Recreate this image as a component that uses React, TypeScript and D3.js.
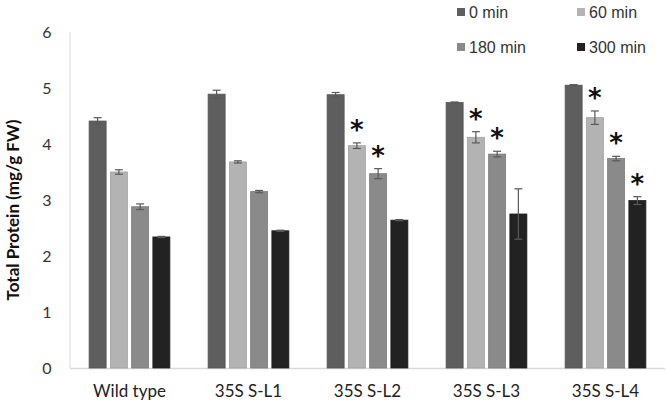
import React from "react";
import * as d3 from "d3";

const categories = ["Wild type", "35S S-L1", "35S S-L2", "35S S-L3", "35S S-L4"];
const seriesNames = ["0 min", "60 min", "180 min", "300 min"];
const seriesColors = ["#5e5e5e", "#b3b3b3", "#8a8a8a", "#222222"];
const yTicks = [0, 1, 2, 3, 4, 5, 6];

const values0 = [4.41, 4.89, 4.88, 4.74, 5.05];
const values60 = [3.5, 3.68, 3.97, 4.12, 4.47];
const values180 = [2.88, 3.15, 3.47, 3.82, 3.74];
const values300 = [2.34, 2.45, 2.64, 2.75, 2.99];

const err0 = [0.06, 0.07, 0.04, 0.01, 0.01];
const err60 = [0.04, 0.02, 0.05, 0.1, 0.12];
const err180 = [0.05, 0.02, 0.09, 0.05, 0.04];
const err300 = [0.01, 0.01, 0.01, 0.45, 0.07];

const sig0 = [false, false, false, false, false];
const sig60 = [false, false, true, true, true];
const sig180 = [false, false, true, true, true];
const sig300 = [false, false, false, false, true];

const allValues = [values0, values60, values180, values300];
const allErrors = [err0, err60, err180, err300];
const allSig = [sig0, sig60, sig180, sig300];

export default function App() {
  const W = 666;
  const H = 404;
  const left = 70;
  const right = 665;
  const top = 32;
  const bottom = 368;

  const x0 = d3.scaleBand<string>().domain(categories).range([left, right]).padding(0);
  const x1 = d3
    .scaleBand<string>()
    .domain(seriesNames)
    .range([0, x0.bandwidth()])
    .paddingInner(0.2)
    .paddingOuter(0.9);
  const y = d3.scaleLinear().domain([0, 6]).range([bottom, top]);

  const font = "Lato, 'Open Sans', sans-serif";
  const cap = 4;

  return (
    <svg width={W} height={H} style={{ position: "absolute", left: 0, top: 0, background: "#fff" }}>
      {/* axes */}
      <line x1={left} x2={left} y1={top} y2={bottom} stroke="#d9d9d9" strokeWidth={1} />
      <line x1={left} x2={right} y1={bottom + 0.5} y2={bottom + 0.5} stroke="#d9d9d9" strokeWidth={1.5} />

      {yTicks.map((t) => (
        <text
          key={t}
          x={47}
          y={y(t)}
          dy="0.36em"
          textAnchor="middle"
          fontFamily={font}
          fontSize={16}
          fill="#333"
        >
          {t}
        </text>
      ))}

      <text
        transform={`translate(19,${(top + bottom) / 2 + 10}) rotate(-90)`}
        textAnchor="middle"
        fontFamily={font}
        fontWeight="bold"
        fontSize={17}
        fill="#111"
      >
        Total Protein (mg/g FW)
      </text>

      {categories.map((c, ci) => (
        <g key={c} transform={`translate(${x0(c)},0)`}>
          {seriesNames.map((s, si) => {
            const v = allValues[si][ci];
            const e = allErrors[si][ci];
            const bx = x1(s)!;
            const bw = x1.bandwidth();
            const cx = bx + bw / 2;
            return (
              <g key={s}>
                <rect
                  x={bx}
                  y={y(v)}
                  width={bw}
                  height={y(0) - y(v)}
                  fill={seriesColors[si]}
                  stroke={d3.color(seriesColors[si])!.darker(0.3).toString()}
                  strokeWidth={0.8}
                />
                <g stroke="#595959" strokeWidth={1.2}>
                  <line x1={cx} x2={cx} y1={y(v + e)} y2={y(v - e)} />
                  <line x1={cx - cap} x2={cx + cap} y1={y(v + e)} y2={y(v + e)} />
                  <line x1={cx - cap} x2={cx + cap} y1={y(v - e)} y2={y(v - e)} />
                </g>
                {allSig[si][ci] && (
                  <text
                    x={cx}
                    y={y(v + e) - 4}
                    textAnchor="middle"
                    fontFamily="'DejaVu Sans', sans-serif"
                    fontWeight="bold"
                    fontSize={26}
                    fill="#111"
                  >
                    *
                  </text>
                )}
              </g>
            );
          })}
          <text
            x={x0.bandwidth() / 2}
            y={397}
            textAnchor="middle"
            fontFamily={font}
            fontSize={17}
            fill="#222"
          >
            {c}
          </text>
        </g>
      ))}

      {/* legend */}
      {seriesNames.map((s, i) => {
        const col = i % 2;
        const row = Math.floor(i / 2);
        const lx = col === 0 ? 457 : 577;
        const ly = row === 0 ? 12 : 47;
        return (
          <g key={s}>
            <rect x={lx} y={ly - 4} width={8} height={8} fill={seriesColors[i]} />
            <text
              x={lx + 12}
              y={ly}
              dy="0.36em"
              fontFamily="'Liberation Sans', Arial, sans-serif"
              fontSize={16}
              fill="#333"
            >
              {s}
            </text>
          </g>
        );
      })}
    </svg>
  );
}
